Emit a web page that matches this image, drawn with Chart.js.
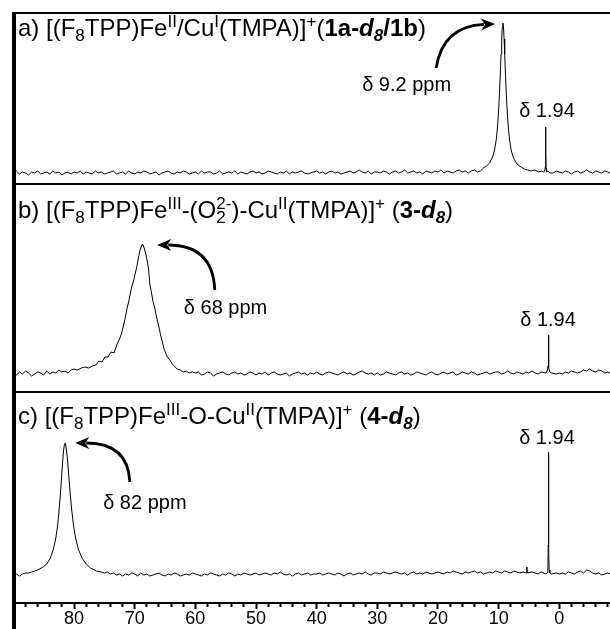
<!DOCTYPE html>
<html>
<head>
<meta charset="utf-8">
<script src="https://cdn.jsdelivr.net/npm/chart.js"></script>
<style>
  html, body { margin: 0; padding: 0; background: #fff; }
</style>
</head>
<body>
<canvas id="nmr" width="610" height="629"></canvas>
<script>
const FONT = '"Liberation Sans", Arial, Helvetica, sans-serif';

// baseline sampling grid, ppm (left to right), 20 points per row
const ppmGrid = [
  90, 89.5, 89, 88.5, 88, 87.5, 87, 86.5, 86, 85.5, 85, 84.5, 84, 83.5, 83, 82.5, 82, 81.5, 81, 80.5,
  80, 79.5, 79, 78.5, 78, 77.5, 77, 76.5, 76, 75.5, 75, 74.5, 74, 73.5, 73, 72.5, 72, 71.5, 71, 70.5,
  70, 69.5, 69, 68.5, 68, 67.5, 67, 66.5, 66, 65.5, 65, 64.5, 64, 63.5, 63, 62.5, 62, 61.5, 61, 60.5,
  60, 59.5, 59, 58.5, 58, 57.5, 57, 56.5, 56, 55.5, 55, 54.5, 54, 53.5, 53, 52.5, 52, 51.5, 51, 50.5,
  50, 49.5, 49, 48.5, 48, 47.5, 47, 46.5, 46, 45.5, 45, 44.5, 44, 43.5, 43, 42.5, 42, 41.5, 41, 40.5,
  40, 39.5, 39, 38.5, 38, 37.5, 37, 36.5, 36, 35.5, 35, 34.5, 34, 33.5, 33, 32.5, 32, 31.5, 31, 30.5,
  30, 29.5, 29, 28.5, 28, 27.5, 27, 26.5, 26, 25.5, 25, 24.5, 24, 23.5, 23, 22.5, 22, 21.5, 21, 20.5,
  20, 19.5, 19, 18.5, 18, 17.5, 17, 16.5, 16, 15.5, 15, 14.5, 14, 13.5, 13, 12.5, 12, 11.5, 11, 10.5,
  10, 9.5, 9, 8.5, 8, 7.5, 7, 6.5, 6, 5.5, 5, 4.5, 4, 3.5, 3, 2.5, 2, 1.5, 1, 0.5,
  0, -0.5, -1, -1.5, -2, -2.5, -3, -3.5, -4, -4.5, -5, -5.5, -6, -6.5, -7, -7.5, -8, -8.5, -9, -9.5
];

// baseline readings of each trace on that grid
const noiseA = [
  0, 2, -1, 1, 0, -2, 1, 0, 2, -1, 0, 1, -1, 2, 0, 1, -2, 0, 1, -1,
  1, 0, 2, -1, 1, 0, -1, 2, 0, 1, -1, 0, 1, 2, -1, 0, 1, -1, 2, 0,
  -1, 1, 0, 2, 1, -1, 0, 1, -2, 0, 1, 2, 0, -1, 1, 0, 2, 1, -1, 0,
  1, -1, 2, 0, 1, 1, -1, 0, 2, -1, 0, 1, 0, 2, -1, 1, 0, -1, 1, 2,
  0, 1, -1, 0, 2, 1, 0, -1, 1, 0, 2, -1, 1, 0, 1, 2, 0, -1, 0, 1,
  2, 0, 1, -1, 1, 2, 0, 1, -1, 0, 1, 2, 0, 1, 3, 1, 0, 2, -1, 1,
  1, 0, 2, 1, -1, 1, 2, 0, 1, 3, 0, 1, 2, 0, 1, -1, 2, 1, 0, 2,
  1, 3, 0, 2, 1, 0, 2, 3, 1, 2, 0, 2, 3, 1, 2, 4, 2, 1, 3, 2,
  3, 2, 4, 2, 3, 1, 2, 3, 1, 2, 2, 0, 1, 2, 0, 1, 2, 1, 0, 2,
  1, 0, 2, 1, -1, 1, 2, 0, 1, 3, 1, 0, 2, 1, 0, 2, 1, -1, 1, 0
];
const noiseB = [
  1, -1, 2, 0, 3, 1, -2, 0, 2, 1, -1, 3, 0, 2, 1, 4, 2, 3, 1, 4,
  3, 5, 4, 6, 5, 7, 8, 7, 9, 11, 12, 14, 17, 20, 24, 30, 35, 40, 48, 56,
  0, 0, 0, 0, 0, 0, 0, 0, 0, 0, 0, 0, 0, 0, 0, 0, 0, 0, 0, 0,
  1, 2, -1, 0, 2, 1, -2, 0, 1, 2, 0, -1, 1, 2, 0, 1, -1, 0, 2, 1,
  -1, 1, 0, 2, -1, 1, 2, 0, -1, 0, 1, -2, 0, 1, 2, 0, 1, -1, 1, 0,
  2, 0, -1, 1, 2, 1, 0, -1, 1, 2, 0, 1, -1, 0, 2, 3, 1, 0, 1, -1,
  1, -1, 0, 2, 1, 0, -1, 1, 2, 0, 1, -1, 0, 2, 1, 0, -1, 1, 2, 0,
  -1, 1, 2, 0, 1, 2, -1, 0, 2, 1, 0, 2, 1, -1, 0, 1, 2, 0, 1, 2,
  2, 0, 1, 3, 1, 0, 2, 1, 0, 2, 1, 3, 1, 0, 2, 1, 0, 1, 2, 0,
  1, 0, 2, 1, 3, 2, 1, 2, 4, 3, 5, 3, 2, 4, 3, 1, 2, 0, 1, 2
];
const noiseC = [
  0, 1, -1, 1, 2, 2, 0, 4, 0, 0, 0, 0, 0, 0, 0, 0, 0, 0, 0, 0,
  0, 0, 0, 0, 0, 0, 0, 0, 0, 3, 2, 3, 1, 2, 0, 1, -1, 1, 0, 2,
  1, -1, 2, 0, 1, -1, 0, 1, 2, 0, -1, 1, 0, 2, 1, -1, 0, 1, 0, 2,
  1, 0, -1, 1, 0, 2, 1, 0, -1, 1, 0, 2, 1, -1, 1, 0, 2, 1, 0, 1,
  2, 0, 1, 2, 1, 0, 2, 1, 3, 1, 0, 1, -1, 1, 2, 0, 1, 2, 0, 1,
  1, 2, 0, 1, 2, 1, 0, 2, 1, -1, 1, 2, 0, 1, 2, 1, 3, 1, 0, 2,
  2, 1, 3, 2, 1, 2, 3, 2, 1, 2, 0, 2, 3, 1, 2, 1, 3, 2, 1, 2,
  3, 2, 1, 3, 2, 4, 3, 2, 1, 3, 2, 3, 4, 2, 3, 1, 2, 3, 2, 4,
  3, 2, 4, 3, 2, 4, 3, 2, 3, 2, 4, 3, 2, 1, 3, 2, 1, 2, 1, 2,
  1, 2, 1, 3, 2, 1, 3, 4, 2, 5, 4, 2, 1, 2, 0, 1, 2, 1, 0, 1
];

// peak regions, read point by point (ppm, height above baseline)
const peakA_ppm = [12.5, 12.0, 11.5, 11.0, 10.7, 10.4, 10.2, 10.0, 9.85, 9.7,
  9.6, 9.5, 9.4, 9.3, 9.2, 9.1, 9.0, 8.9, 8.75, 8.6,
  8.4, 8.2, 7.9, 7.6, 7.2, 6.8, 6.3, 5.8, 5.2, 4.6,
  4.0, 3.4, 2.9, 2.6, 2.4, 2.3, 2.26, 2.24, 2.22, 2.18,
  2.1, 1.9, 1.5];
const peakA_int = [5, 7, 10, 16, 22, 33, 45, 63, 81, 103,
  119, 134, 146, 150, 146, 134, 119, 103, 81, 63,
  45, 33, 22, 16, 11, 8, 6, 4, 3, 2,
  3, 1, 2, 1, 2, 6, 20, 46, 20, 5,
  1, 2, 0];

const peakB_ppm = [80.5, 80.0, 79.4, 78.8, 78.2, 77.6, 77.0, 76.4, 75.9, 75.4,
  74.9, 74.4, 73.9, 73.4, 72.9, 72.5, 72.2, 71.7, 71.25, 71.0,
  70.5, 70.2, 69.7, 69.2, 68.9, 68.7, 68.5, 68.2, 67.9, 67.7,
  67.5, 67.2, 67.0, 66.7, 66.4, 66.2, 65.9, 65.7, 65.4, 65.2,
  64.9, 64.6, 64.2, 63.8, 63.5, 63.0, 62.5, 62.0, 61.5, 61.0,
  60.5, 2.2, 2.0, 1.85, 1.8, 1.77, 1.74, 1.7, 1.55, 1.3];
const peakB_int = [4, 5, 4, 6, 7, 6, 8, 9, 13, 12,
  17, 17, 22, 21, 30, 35, 40, 52, 66, 72,
  87, 93, 106, 122, 128, 130, 127, 121, 112, 104,
  90, 80, 73, 66, 57, 52, 44, 38, 31, 26,
  21, 17, 14, 10, 8, 5, 4, 2, 3, 1,
  2, 1, 3, 8, 20, 39, 18, 6, 2, 1];

const peakC_ppm = [87.0, 86.0, 85.1, 84.5, 83.9, 83.4, 83.0, 82.7, 82.45, 82.3,
  82.1, 81.9, 81.75, 81.6, 81.5, 81.4, 81.25, 81.05, 80.8, 80.6,
  80.4, 80.1, 79.75, 79.3, 78.7, 78.0, 77.3, 76.3, 5.45, 5.35,
  5.25, 2.2, 2.0, 1.88, 1.82, 1.78, 1.74, 1.68, 1.55, 1.3];
const peakC_int = [3, 5, 8, 11, 17, 26, 37, 50, 66, 77,
  94, 112, 123, 130, 132, 131, 125, 113, 94, 79,
  66, 50, 37, 26, 17, 11, 7, 4, 2, 8,
  2, 1, 2, 5, 30, 123, 28, 5, 2, 1];

// axes
const xMin = -8.36, xMax = 89.9;
const panelKeys = ['ya', 'yb', 'yc'];
const panelMin = [-11, -18, -28];
const panelMax = [160, 190, 183];
const panelWeight = [171, 208, 211];

// captions
const panelLabels = [
  [['a) [(F'], ['8', 'sub'], ['TPP)Fe'], ['II', 'sup'], ['/Cu'], ['I', 'sup'], ['(TMPA)]'], ['+', 'sup'],
   ['('], ['1a-', 'b'], ['d', 'bi'], ['8', 'bisub'], ['/1b', 'b'], [')']],
  [['b) [(F'], ['8', 'sub'], ['TPP)Fe'], ['III', 'sup'], ['-(O'], ['2', 'sub0'], ['2-', 'sup'], [')-Cu'],
   ['II', 'sup'], ['(TMPA)]'], ['+', 'sup'], [' ('], ['3-', 'b'], ['d', 'bi'], ['8', 'bisub'], [')']],
  [['c) [(F'], ['8', 'sub'], ['TPP)Fe'], ['III', 'sup'], ['-O-Cu'], ['II', 'sup'], ['(TMPA)]'], ['+', 'sup'],
   [' ('], ['4-', 'b'], ['d', 'bi'], ['8', 'bisub'], [')']]
];
const labelLevel = [137, 156, 151];

const noteText = ['δ 9.2 ppm', 'δ 1.94', 'δ 68 ppm', 'δ 1.94', 'δ 82 ppm', 'δ 1.94'];
const notePanel = ['ya', 'ya', 'yb', 'yb', 'yc', 'yc'];
const notePpm = [32.5, 2.03, 61.9, 1.86, 75.2, 2.03];
const noteLevel = [82, 56, 60, 48, 66, 131];
const noteAlign = ['left', 'center', 'left', 'center', 'left', 'center'];

// arrows: [ppm, height] in each panel
const arrowTail = [[20.3, 105], [56.8, 84], [70.8, 93]];
const arrowBend = [[19.2, 147], [57.1, 129], [71.1, 132]];
const arrowTip = [[10.6, 149], [66.3, 129], [79.8, 132]];

function buildTrace(noise, pPpm, pInt) {
  const pts = [];
  ppmGrid.forEach((p, i) => {
    if (!pPpm.some(q => Math.abs(q - p) < 0.45)) pts.push({x: p, y: noise[i]});
  });
  pPpm.forEach((p, i) => pts.push({x: p, y: pInt[i]}));
  return pts.sort((a, b) => b.x - a.x);
}

function drawRich(ctx, segs, x, y, size) {
  let cx = x;
  segs.forEach(([t, kind = 'n']) => {
    const small = kind === 'sub' || kind === 'sub0' || kind === 'sup' || kind === 'bisub';
    const fs = small ? Math.round(size * 0.7) : size;
    const style = kind.startsWith('bi') ? 'italic bold ' : (kind === 'b' ? 'bold ' : '');
    ctx.font = style + fs + 'px ' + FONT;
    let dy = 0;
    if (kind === 'sup') dy = -size * 0.38;
    else if (small) dy = size * 0.2;
    ctx.fillText(t, cx, y + dy);
    if (kind !== 'sub0') cx += ctx.measureText(t).width;
  });
}

function drawArrow(ctx, p0, c, p1) {
  const ang = Math.atan2(p1.y - c.y, p1.x - c.x);
  const len = 14, half = 6;
  const bx = p1.x - len * Math.cos(ang), by = p1.y - len * Math.sin(ang);
  ctx.lineWidth = 2.8;
  ctx.beginPath();
  ctx.moveTo(p0.x, p0.y);
  ctx.quadraticCurveTo(c.x, c.y, bx + 3 * Math.cos(ang), by + 3 * Math.sin(ang));
  ctx.stroke();
  ctx.beginPath();
  ctx.moveTo(p1.x, p1.y);
  ctx.lineTo(bx + half * Math.sin(ang), by - half * Math.cos(ang));
  ctx.lineTo(bx + 4 * Math.cos(ang), by + 4 * Math.sin(ang));
  ctx.lineTo(bx - half * Math.sin(ang), by + half * Math.cos(ang));
  ctx.closePath();
  ctx.fill();
}

const framePlugin = {
  id: 'frame',
  afterDraw(chart) {
    const {ctx, chartArea: area, scales} = chart;
    ctx.save();
    ctx.fillStyle = '#000';
    ctx.strokeStyle = '#000';
    // top edge, thick left edge, panel separators
    ctx.fillRect(area.left - 2, area.top - 1, area.right - area.left + 2, 2);
    ctx.fillRect(area.left - 2, area.top - 1, 4, chart.height - area.top + 1);
    ['yb', 'yc'].forEach(k => ctx.fillRect(area.left, scales[k].top - 1, area.right - area.left, 2));

    ctx.textAlign = 'left';
    ctx.textBaseline = 'alphabetic';
    panelKeys.forEach((k, i) => {
      drawRich(ctx, panelLabels[i], area.left + 4, scales[k].getPixelForValue(labelLevel[i]), 24);
    });

    ctx.font = '20px ' + FONT;
    noteText.forEach((t, i) => {
      ctx.textAlign = noteAlign[i];
      ctx.fillText(t, scales.x.getPixelForValue(notePpm[i]), scales[notePanel[i]].getPixelForValue(noteLevel[i]));
    });

    arrowTip.forEach((tip, i) => {
      const ys = scales[panelKeys[i]];
      const pt = p => ({x: scales.x.getPixelForValue(p[0]), y: ys.getPixelForValue(p[1])});
      drawArrow(ctx, pt(arrowTail[i]), pt(arrowBend[i]), pt(tip));
    });
    ctx.restore();
  }
};

function yPanel(i) {
  return {
    type: 'linear',
    position: 'left',
    stack: 'spectra',
    stackWeight: panelWeight[i],
    weight: 3 - i,
    min: panelMin[i],
    max: panelMax[i],
    grid: {display: false, drawTicks: false},
    border: {display: false},
    ticks: {display: false},
    afterFit: s => { s.width = 0; }
  };
}

const traces = [
  buildTrace(noiseA, peakA_ppm, peakA_int),
  buildTrace(noiseB, peakB_ppm, peakB_int),
  buildTrace(noiseC, peakC_ppm, peakC_int)
];

new Chart(document.getElementById('nmr').getContext('2d'), {
  type: 'line',
  data: {
    datasets: traces.map((d, i) => ({
      data: d,
      yAxisID: panelKeys[i],
      borderColor: '#000',
      borderWidth: 1,
      pointRadius: 0,
      tension: 0
    }))
  },
  options: {
    responsive: false,
    animation: false,
    devicePixelRatio: 1,
    layout: {padding: {left: 14, top: 13, right: 0, bottom: 0}},
    plugins: {legend: {display: false}, tooltip: {enabled: false}},
    scales: {
      x: {
        type: 'linear',
        position: 'bottom',
        reverse: true,
        min: xMin,
        max: xMax,
        border: {display: true, color: '#000', width: 2},
        grid: {
          drawOnChartArea: false,
          tickLength: 6,
          tickWidth: 2,
          tickColor: '#000',
          tickBorderDash: c => (c.tick && c.tick.value % 10 === 0) ? [] : [3, 20]
        },
        ticks: {
          stepSize: 2,
          includeBounds: false,
          autoSkip: false,
          maxRotation: 0,
          minRotation: 0,
          padding: 1,
          color: '#000',
          font: {family: FONT, size: 18, lineHeight: 1},
          callback: v => (v % 10 === 0 ? String(v) : '')
        },
        afterFit: s => { s.height = 26; s.paddingLeft = 0; s.paddingRight = 0; }
      },
      ya: yPanel(0),
      yb: yPanel(1),
      yc: yPanel(2)
    }
  },
  plugins: [framePlugin]
});
</script>
</body>
</html>
